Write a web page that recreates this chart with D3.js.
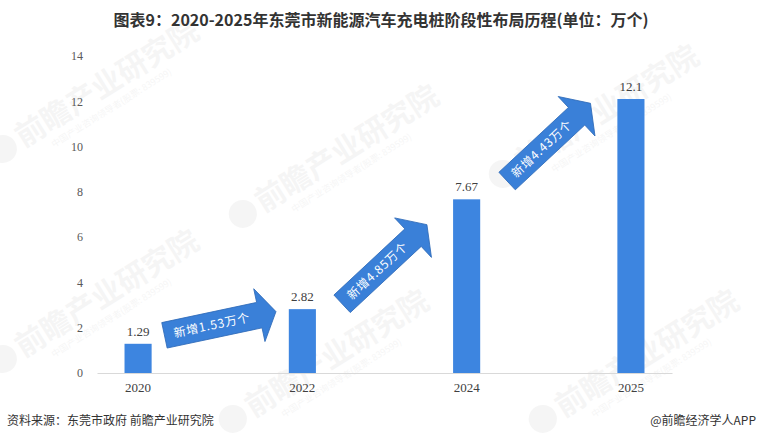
<!DOCTYPE html>
<html>
<head>
<meta charset="utf-8">
<script src="https://cdn.jsdelivr.net/npm/d3@7/dist/d3.min.js"></script>
<style>
  html, body { margin: 0; padding: 0; background: #fff; }
  svg { display: block; }
</style>
</head>
<body>
<svg id="chart" width="760" height="442"></svg>
<script>
// ---- data ----
const categories = ["2020", "2022", "2024", "2025"];
const values = [1.29, 2.82, 7.67, 12.1];
const yTicks = [0, 2, 4, 6, 8, 10, 12, 14];
const title = "图表9：2020-2025年东莞市新能源汽车充电桩阶段性布局历程(单位：万个)";
const source = "资料来源：东莞市政府 前瞻产业研究院";
const credit = "@前瞻经济学人APP";

// ---- layout ----
const W = 760, H = 442;
const plot = { left: 97, right: 672, top: 56, bottom: 373 };
const svg = d3.select("#chart");
const cjk = "'Noto Sans CJK SC', 'Noto Sans', sans-serif";
const serif = "'Liberation Serif', 'DejaVu Serif', serif";

// watermarks (faint)
const wm = [[20, 150], [260, 215], [520, 175], [20, 360], [250, 420], [560, 420]];
wm.forEach(([x, y]) => {
  const g = svg.append("g").attr("transform", `translate(${x},${y}) rotate(-32)`).attr("opacity", 0.035);
  g.append("circle").attr("cx", -14).attr("cy", -10).attr("r", 14).attr("fill", "#000");
  g.append("text").attr("x", 4).attr("y", 0).attr("font-family", cjk).attr("font-weight", "bold")
    .attr("font-size", 30).attr("fill", "#000").text("前瞻产业研究院");
  g.append("text").attr("x", 30).attr("y", 16).attr("font-family", cjk)
    .attr("font-size", 9).attr("fill", "#000").text("中国产业咨询领导者(股票: 839599)");
});

// 7 slots: bars in even slots, arrows in gaps
const slots = d3.range(categories.length * 2 - 1);
const x = d3.scaleBand().domain(slots).range([plot.left, plot.right]).paddingInner(0.67).paddingOuter(0.335);
const y = d3.scaleLinear().domain([0, 14]).range([plot.bottom, plot.top]);
const slotOf = i => i * 2;

// title
svg.append("text").attr("x", 381).attr("y", 26).attr("text-anchor", "middle")
  .attr("font-family", cjk).attr("font-weight", "bold").attr("font-size", 16)
  .attr("fill", "#333").text(title);

// y axis labels
const yAxis = d3.axisLeft(y).tickValues(yTicks).tickSize(0).tickPadding(0).tickFormat(d3.format("d"));
const ya = svg.append("g").attr("transform", `translate(${plot.left - 14},0)`).call(yAxis);
ya.select(".domain").remove();
ya.selectAll("text").attr("font-family", serif).attr("font-size", 12).attr("fill", "#595959");

// x axis line + labels
const xAxis = d3.axisBottom(x).tickSize(0).tickPadding(10)
  .tickValues(categories.map((c, i) => slotOf(i)))
  .tickFormat(d => categories[d / 2]);
const xa = svg.append("g").attr("transform", `translate(0,${plot.bottom})`).call(xAxis);
xa.select(".domain").attr("stroke", "#d9d9d9").attr("stroke-width", 1);
xa.selectAll("text").attr("font-family", serif).attr("font-size", 13).attr("fill", "#404040");

// bars
svg.append("g").selectAll("rect").data(values).join("rect")
  .attr("x", (d, i) => x(slotOf(i)))
  .attr("y", d => y(d))
  .attr("width", x.bandwidth())
  .attr("height", d => y(0) - y(d))
  .attr("fill", "#3d85e0");

// value labels
svg.append("g").selectAll("text").data(values).join("text")
  .attr("x", (d, i) => x(slotOf(i)) + x.bandwidth() / 2)
  .attr("y", d => y(d) - 8)
  .attr("text-anchor", "middle")
  .attr("font-family", serif).attr("font-size", 13).attr("fill", "#404040")
  .text(d => d);

// growth arrows between bars
const arrowStyle = [
  { angle: -12, len: 114, body: 13, head: 27, headLen: 17, dy: -3 },
  { angle: -43, len: 116, body: 12, head: 27, headLen: 19, dy: 10 },
  { angle: -43, len: 114, body: 12, head: 27, headLen: 19, dy: -7 }
];
for (let i = 0; i < values.length - 1; i++) {
  const s = arrowStyle[i];
  const cx = x(slotOf(i) + 1) + x.bandwidth() / 2;
  const cy = y((values[i] + values[i + 1]) / 2) + s.dy;
  const L = s.len, h = s.body, Hh = s.head, hl = s.headLen;
  const pts = [[0, -h], [L - hl, -h], [L - hl, -Hh], [L, 0], [L - hl, Hh], [L - hl, h], [0, h]]
    .map(([px, py]) => [px - L / 2, py]);
  const g = svg.append("g").attr("transform", `translate(${cx},${cy}) rotate(${s.angle})`);
  g.append("polygon").attr("points", pts.map(p => p.join(",")).join(" "))
    .attr("fill", "#3a80d8").attr("stroke", "#2f6bb8").attr("stroke-width", 0.8);
  const inc = (values[i + 1] - values[i]).toFixed(2);
  g.append("text").attr("x", -hl / 2).attr("y", 0).attr("dy", "0.35em")
    .attr("text-anchor", "middle").attr("font-family", cjk).attr("font-size", 12)
    .attr("letter-spacing", 0.8)
    .attr("fill", "#fff").text(`新增${inc}万个`);
}

// footer
svg.append("text").attr("x", 7).attr("y", 425).attr("font-family", cjk).attr("font-size", 12)
  .attr("fill", "#333").text(source);
svg.append("text").attr("x", 756).attr("y", 425).attr("text-anchor", "end").attr("font-family", cjk)
  .attr("font-size", 12).attr("fill", "#333").text(credit);
</script>
</body>
</html>
